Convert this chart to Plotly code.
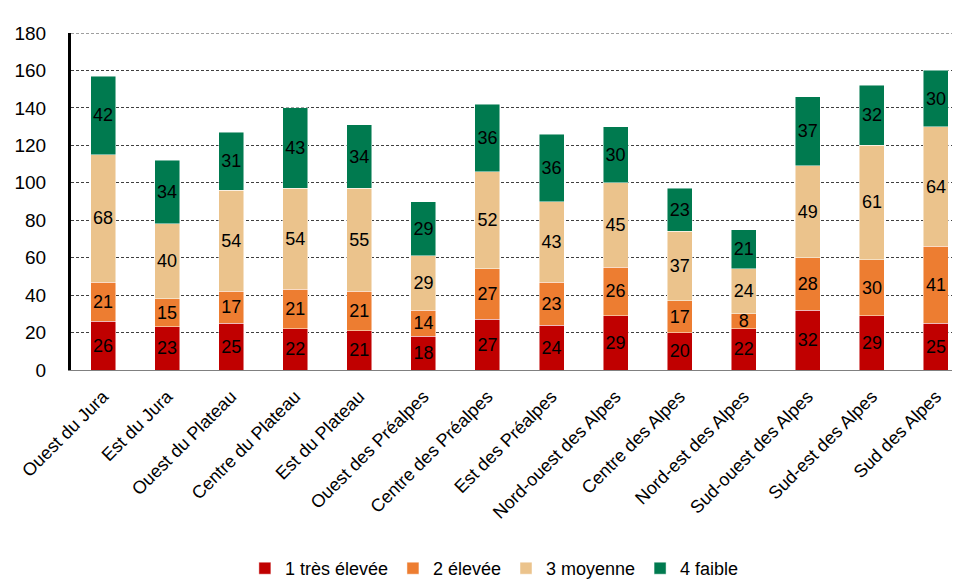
import plotly.graph_objects as go

regions = ["Ouest du Jura", "Est du Jura", "Ouest du Plateau", "Centre du Plateau",
           "Est du Plateau", "Ouest des Préalpes", "Centre des Préalpes", "Est des Préalpes",
           "Nord-ouest des Alpes", "Centre des Alpes", "Nord-est des Alpes",
           "Sud-ouest des Alpes", "Sud-est des Alpes", "Sud des Alpes"]
tres_elevee = [26, 23, 25, 22, 21, 18, 27, 24, 29, 20, 22, 32, 29, 25]
elevee = [21, 15, 17, 21, 21, 14, 27, 23, 26, 17, 8, 28, 30, 41]
moyenne = [68, 40, 54, 54, 55, 29, 52, 43, 45, 37, 24, 49, 61, 64]
faible = [42, 34, 31, 43, 34, 29, 36, 36, 30, 23, 21, 37, 32, 30]
y_ticks = [0, 20, 40, 60, 80, 100, 120, 140, 160, 180]

series = [
    ("1 très élevée", tres_elevee, "#C00000"),
    ("2 élevée", elevee, "#ED7D31"),
    ("3 moyenne", moyenne, "#EBC38C"),
    ("4 faible", faible, "#007A4F"),
]

font = "Liberation Sans, Arial, sans-serif"
fig = go.Figure()
for name, vals, col in series:
    fig.add_trace(go.Bar(
        x=regions, y=vals, name=name, marker_color=col,
        marker_line=dict(color="rgba(255,255,255,0.6)", width=0.8),
        text=[str(v) for v in vals], textposition="inside",
        insidetextanchor="middle", textangle=0,
        textfont=dict(color="black", size=18, family=font),
        width=0.39,
    ))

# top gridline at 180
fig.add_shape(type="line", xref="paper", yref="y", x0=0, x1=1, y0=180, y1=180,
              line=dict(color="#404040", width=1, dash="3px,2px"), layer="below")

fig.update_layout(
    barmode="stack",
    width=960, height=579,
    margin=dict(l=63, r=0, t=25, b=207),
    plot_bgcolor="white", paper_bgcolor="white",
    font=dict(family=font, size=18, color="black"),
    uniformtext=dict(minsize=18, mode="show"),
    legend=dict(orientation="h", x=0.472, xanchor="center", y=-0.59, yanchor="middle",
                font=dict(size=18, family=font), traceorder="normal",
                itemwidth=30, tracegroupgap=0),
    xaxis=dict(tickangle=-45, showline=True, linecolor="#808080", linewidth=1,
               tickfont=dict(size=18, family=font), ticks="", range=[-0.5, 13.5],
               ticklabelstandoff=8),
    yaxis=dict(range=[0, 180], tickvals=y_ticks, showline=True, linecolor="black",
               linewidth=3, showgrid=True, gridcolor="#404040", griddash="3px,2px",
               gridwidth=1, ticks="", tickfont=dict(size=19, family=font),
               zeroline=False, ticklabelstandoff=18),
)
fig.write_html("out.html")
